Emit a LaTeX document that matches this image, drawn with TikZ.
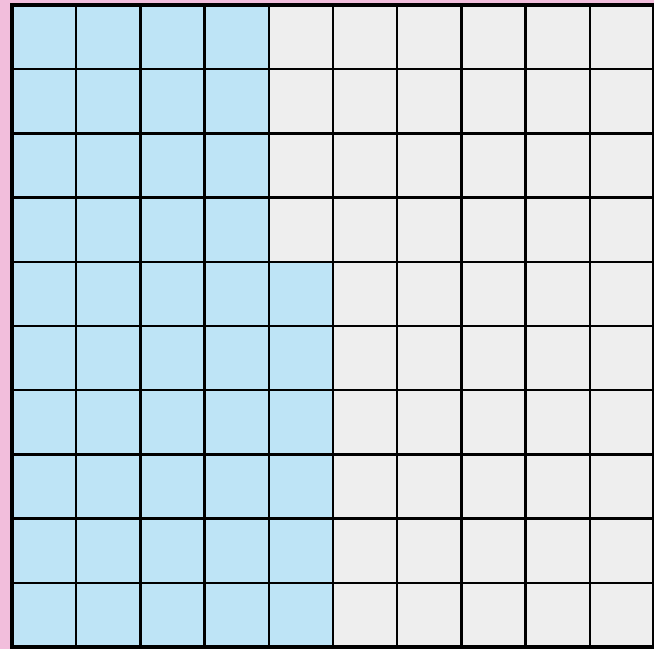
\documentclass[tikz,border=0pt]{standalone}
\usepackage{xcolor}
\usepackage{tikz}
\definecolor{framepink}{RGB}{242, 190, 220}
\definecolor{cellblue}{RGB}{190, 228, 246}
\definecolor{cellgrey}{RGB}{238, 238, 238}

\begin{document}
\begin{tikzpicture}[
    gridline/.style={draw=black, line width=1.1pt},
    frameline/.style={draw=black, line width=2.2pt}
]

% Background and bounds
\fill [framepink] (-0.187,-0.031) rectangle (10,10.078);
\useasboundingbox (-0.187,-0.031) rectangle (10,10.078);

% Cells
\fill [cellgrey] (0,0) rectangle (10,10);
\fill [cellblue] (0,0) rectangle (5,6);
\fill [cellblue] (0,6) rectangle (4,10);

% Lines
\draw [gridline] (0,0) grid (10,10);
\draw [frameline] (0,0) rectangle (10,10);

\end{tikzpicture}
\end{document}
